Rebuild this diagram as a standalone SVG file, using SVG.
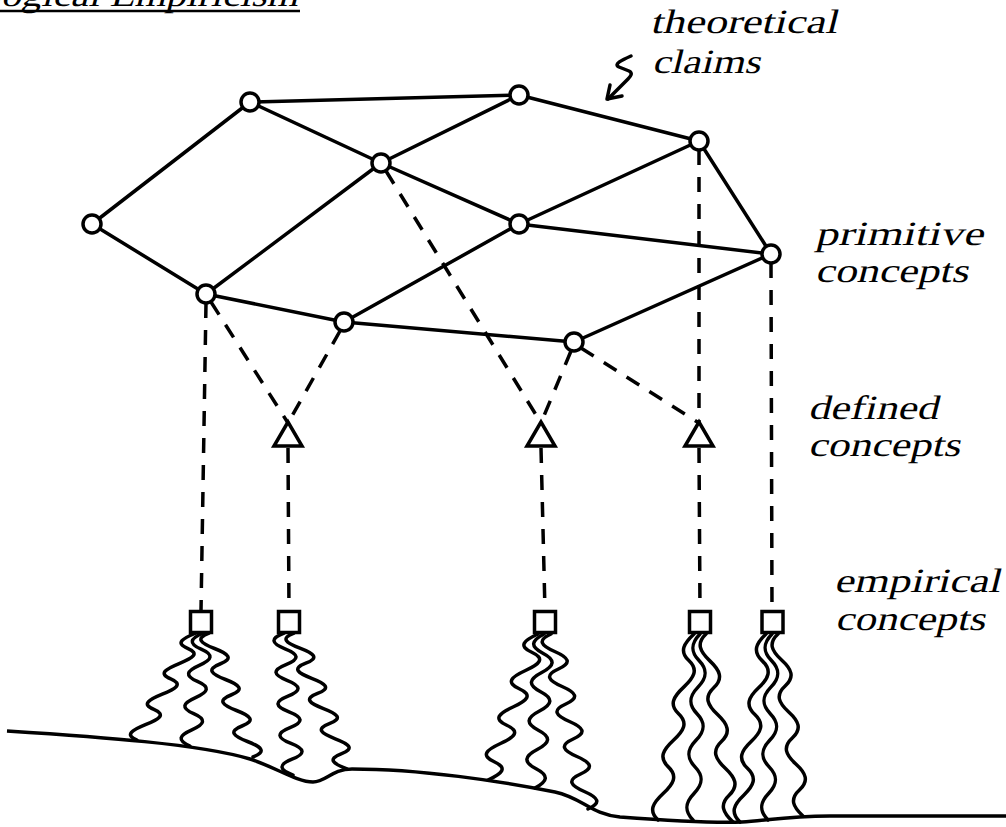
<svg xmlns="http://www.w3.org/2000/svg" width="1006" height="827" viewBox="0 0 1006 827">
<style>
.e{stroke:#000;stroke-width:3.5;fill:none;stroke-linecap:round}
.d{stroke:#000;stroke-width:3.5;fill:none;stroke-dasharray:15 12}
.n{fill:#fff;stroke:#000;stroke-width:3.5}
.w{stroke:#000;stroke-width:3.5;fill:none;stroke-linecap:round;stroke-linejoin:round}
.t{font-family:"Liberation Serif","DejaVu Serif",serif;font-style:normal;font-size:34px;fill:#000}
</style>
<rect width="1006" height="827" fill="#fff"/>
<text class="t" transform="translate(-24,6) skewX(-14)" x="0" y="0" textLength="322" lengthAdjust="spacingAndGlyphs">Logical Empiricism</text>
<line x1="0" y1="11" x2="300" y2="11" stroke="#000" stroke-width="2.5"/>
<g id="connectors">
<line class="e" x1="250" y1="102" x2="519" y2="95"/>
<line class="e" x1="250" y1="102" x2="92" y2="224"/>
<line class="e" x1="250" y1="102" x2="381" y2="163"/>
<line class="e" x1="92" y1="224" x2="206" y2="294"/>
<line class="e" x1="206" y1="294" x2="381" y2="163"/>
<line class="e" x1="381" y1="163" x2="519" y2="95"/>
<line class="e" x1="381" y1="163" x2="519" y2="224"/>
<line class="e" x1="206" y1="294" x2="344" y2="322"/>
<line class="e" x1="344" y1="322" x2="519" y2="224"/>
<line class="e" x1="344" y1="322" x2="574" y2="342"/>
<line class="e" x1="519" y1="95" x2="699" y2="141"/>
<line class="e" x1="519" y1="224" x2="699" y2="141"/>
<line class="e" x1="519" y1="224" x2="771" y2="254"/>
<line class="e" x1="699" y1="141" x2="771" y2="254"/>
<line class="e" x1="574" y1="342" x2="771" y2="254"/>
<line class="d" x1="206" y1="303" x2="201" y2="611"/>
<line class="d" x1="211" y1="302" x2="288" y2="423"/>
<line class="d" x1="340" y1="331" x2="288" y2="423"/>
<line class="d" x1="288" y1="448" x2="289" y2="611"/>
<line class="d" x1="386" y1="171" x2="541" y2="423"/>
<line class="d" x1="571" y1="351" x2="541" y2="423"/>
<line class="d" x1="581" y1="348" x2="699" y2="423"/>
<line class="d" x1="699" y1="150" x2="699" y2="423"/>
<line class="d" x1="541" y1="448" x2="545" y2="611"/>
<line class="d" x1="699" y1="448" x2="700" y2="611"/>
<line class="d" x1="771" y1="263" x2="772" y2="611"/>
<path d="M631,56 C622,60 613,64 619,67 L629,71 C633,73 631,76 628,79 L608,99" class="e" stroke-linejoin="round"/>
<path d="M610,85 L607,99 L622,96" class="e" stroke-linejoin="round"/>
</g>
<g id="node-A"><circle class="n" cx="250" cy="102" r="9"/></g>
<g id="node-B"><circle class="n" cx="381" cy="163" r="9"/></g>
<g id="node-C"><circle class="n" cx="92" cy="224" r="9"/></g>
<g id="node-D"><circle class="n" cx="206" cy="294" r="9"/></g>
<g id="node-E"><circle class="n" cx="344" cy="322" r="9"/></g>
<g id="node-F"><circle class="n" cx="519" cy="95" r="9"/></g>
<g id="node-G"><circle class="n" cx="699" cy="141" r="9"/></g>
<g id="node-H"><circle class="n" cx="519" cy="224" r="9"/></g>
<g id="node-I"><circle class="n" cx="771" cy="254" r="9"/></g>
<g id="node-J"><circle class="n" cx="574" cy="342" r="9"/></g>
<g id="def-1"><polygon class="n" points="288,422 274,446 302,446"/></g>
<g id="def-2"><polygon class="n" points="541,422 527,446 555,446"/></g>
<g id="def-3"><polygon class="n" points="699,422 685,446 713,446"/></g>
<g id="emp-1"><rect class="n" x="190.5" y="611.5" width="21" height="21"/></g>
<g id="emp-2"><rect class="n" x="278.5" y="611.5" width="21" height="21"/></g>
<g id="emp-3"><rect class="n" x="534.5" y="611.5" width="21" height="21"/></g>
<g id="emp-4"><rect class="n" x="689.5" y="611.5" width="21" height="21"/></g>
<g id="emp-5"><rect class="n" x="762" y="611.5" width="21" height="21"/></g>
<g id="waves">
<path class="w" d="M196,633 c-13,5.35 -21.43,9.94 -8.43,15.29 s4.57,9.94 -8.43,15.29 s-21.43,9.94 -8.43,15.29 s4.57,9.94 -8.43,15.29 s-21.43,9.94 -8.43,15.29 s4.57,9.94 -8.43,15.29 s-21.43,9.94 -8.43,15.29"/>
<path class="w" d="M203,633 c-13,5.65 -14.86,10.49 -1.86,16.14 s11.14,10.49 -1.86,16.14 s-14.86,10.49 -1.86,16.14 s11.14,10.49 -1.86,16.14 s-14.86,10.49 -1.86,16.14 s11.14,10.49 -1.86,16.14 s-14.86,10.49 -1.86,16.14"/>
<path class="w" d="M209,633 c-14,5.43 -8.5,10.08 5.5,15.5 s19.5,10.08 5.5,15.5 s-8.5,10.08 5.5,15.5 s19.5,10.08 5.5,15.5 s-8.5,10.08 5.5,15.5 s19.5,10.08 5.5,15.5 s-8.5,10.08 5.5,15.5 s19.5,10.08 5.5,15.5"/>
<path class="w" d="M284,633 c-14,5.52 -13,10.26 1,15.78 s15,10.26 1,15.78 s-13,10.26 1,15.78 s15,10.26 1,15.78 s-13,10.26 1,15.78 s15,10.26 1,15.78 s-13,10.26 1,15.78 s15,10.26 1,15.78 s-13,10.26 1,15.78"/>
<path class="w" d="M294,633 c-14,5.29 -8.11,9.82 5.89,15.11 s19.89,9.82 5.89,15.11 s-8.11,9.82 5.89,15.11 s19.89,9.82 5.89,15.11 s-8.11,9.82 5.89,15.11 s19.89,9.82 5.89,15.11 s-8.11,9.82 5.89,15.11 s19.89,9.82 5.89,15.11 s-8.11,9.82 5.89,15.11"/>
<path class="w" d="M538,634 c-14,6.39 -20.25,11.86 -6.25,18.25 s7.75,11.86 -6.25,18.25 s-20.25,11.86 -6.25,18.25 s7.75,11.86 -6.25,18.25 s-20.25,11.86 -6.25,18.25 s7.75,11.86 -6.25,18.25 s-20.25,11.86 -6.25,18.25 s7.75,11.86 -6.25,18.25"/>
<path class="w" d="M544,634 c-13,6.74 -14.13,12.51 -1.13,19.25 s11.88,12.51 -1.13,19.25 s-14.13,12.51 -1.13,19.25 s11.88,12.51 -1.13,19.25 s-14.13,12.51 -1.13,19.25 s11.88,12.51 -1.13,19.25 s-14.13,12.51 -1.13,19.25 s11.88,12.51 -1.13,19.25"/>
<path class="w" d="M551,634 c-14,6.13 -10.3,11.38 3.7,17.5 s17.7,11.38 3.7,17.5 s-10.3,11.38 3.7,17.5 s17.7,11.38 3.7,17.5 s-10.3,11.38 3.7,17.5 s17.7,11.38 3.7,17.5 s-10.3,11.38 3.7,17.5 s17.7,11.38 3.7,17.5 s-10.3,11.38 3.7,17.5 s17.7,11.38 3.7,17.5"/>
<path class="w" d="M694,634 c-10,9.3 -15.14,17.27 -5.14,26.57 s4.86,17.27 -5.14,26.57 s-15.14,17.27 -5.14,26.57 s4.86,17.27 -5.14,26.57 s-15.14,17.27 -5.14,26.57 s4.86,17.27 -5.14,26.57 s-15.14,17.27 -5.14,26.57"/>
<path class="w" d="M700,634 c-9,9.3 -10,17.27 -1,26.57 s8,17.27 -1,26.57 s-10,17.27 -1,26.57 s8,17.27 -1,26.57 s-10,17.27 -1,26.57 s8,17.27 -1,26.57 s-10,17.27 -1,26.57"/>
<path class="w" d="M706,634 c-10,9.4 -6.14,17.46 3.86,26.86 s13.86,17.46 3.86,26.86 s-6.14,17.46 3.86,26.86 s13.86,17.46 3.86,26.86 s-6.14,17.46 3.86,26.86 s13.86,17.46 3.86,26.86 s-6.14,17.46 3.86,26.86"/>
<path class="w" d="M766,634 c-10,9.4 -13.71,17.46 -3.71,26.86 s6.29,17.46 -3.71,26.86 s-13.71,17.46 -3.71,26.86 s6.29,17.46 -3.71,26.86 s-13.71,17.46 -3.71,26.86 s6.29,17.46 -3.71,26.86 s-13.71,17.46 -3.71,26.86"/>
<path class="w" d="M772,634 c-9,9.3 -9.57,17.27 -0.57,26.57 s8.43,17.27 -0.57,26.57 s-9.57,17.27 -0.57,26.57 s8.43,17.27 -0.57,26.57 s-9.57,17.27 -0.57,26.57 s8.43,17.27 -0.57,26.57 s-9.57,17.27 -0.57,26.57"/>
<path class="w" d="M778,634 c-10,9.1 -6.43,16.9 3.57,26 s13.57,16.9 3.57,26 s-6.43,16.9 3.57,26 s13.57,16.9 3.57,26 s-6.43,16.9 3.57,26 s13.57,16.9 3.57,26 s-6.43,16.9 3.57,26"/>
</g>
<path id="ground" d="M7,731 C100,737 200,744 250,759 C275,767 297,782 313,782 C326,782 332,769 352,769 C420,769 500,781 555,792 C583,798 590,814 620,817 C660,820 715,823 742,822 C765,821 785,816 830,816 L1006,816" fill="none" stroke="#000" stroke-width="3.5"/>
<g id="labels">
<text class="t" transform="translate(650,33) skewX(-14)" textLength="187" lengthAdjust="spacingAndGlyphs">theoretical</text>
<text class="t" transform="translate(652,73) skewX(-14)" textLength="108" lengthAdjust="spacingAndGlyphs">claims</text>
<text class="t" transform="translate(815,245) skewX(-14)" textLength="168" lengthAdjust="spacingAndGlyphs">primitive</text>
<text class="t" transform="translate(815,282) skewX(-14)" textLength="153" lengthAdjust="spacingAndGlyphs">concepts</text>
<text class="t" transform="translate(808,419) skewX(-14)" textLength="130" lengthAdjust="spacingAndGlyphs">defined</text>
<text class="t" transform="translate(808,456) skewX(-14)" textLength="152" lengthAdjust="spacingAndGlyphs">concepts</text>
<text class="t" transform="translate(834,592) skewX(-14)" textLength="166" lengthAdjust="spacingAndGlyphs">empirical</text>
<text class="t" transform="translate(835,630) skewX(-14)" textLength="150" lengthAdjust="spacingAndGlyphs">concepts</text>
</g>
</svg>
